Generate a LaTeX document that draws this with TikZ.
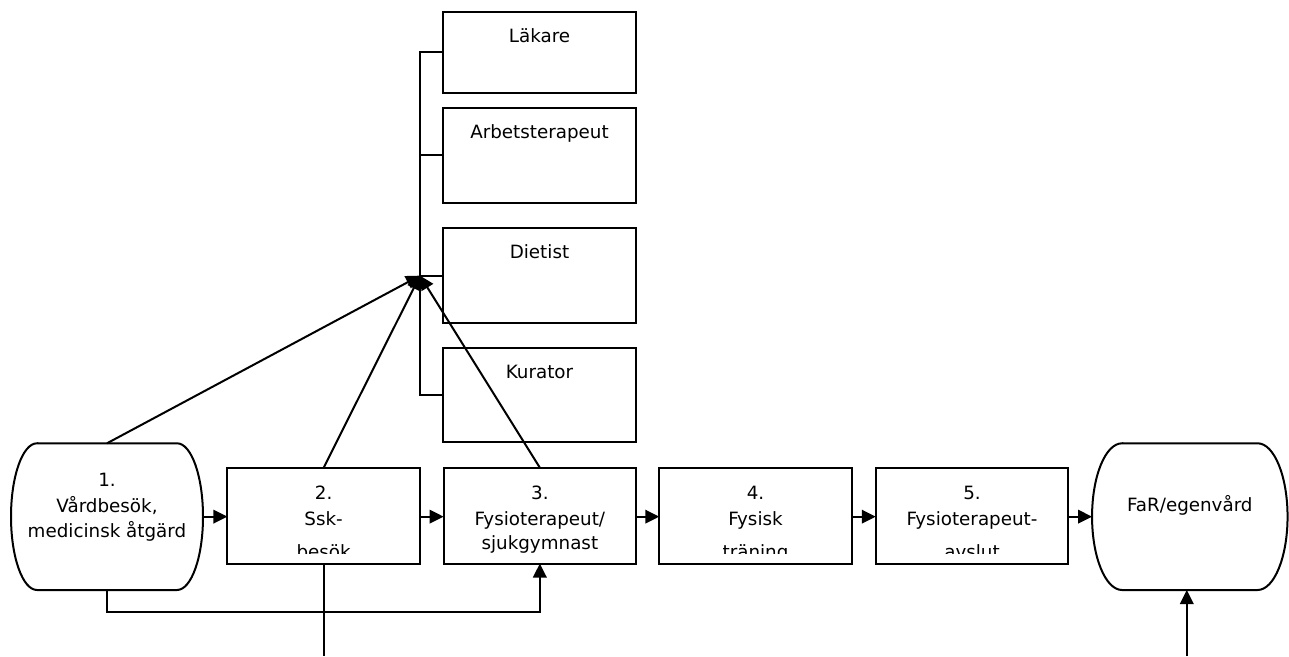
\documentclass[tikz,border=0pt]{standalone}
\usepackage{fontspec}
\setmainfont{DejaVu Sans}
\usetikzlibrary{arrows.meta}
\begin{document}
\begin{tikzpicture}[x=1pt,y=1pt,
  box/.style={draw, line width=2pt, minimum width=192.5pt, inner sep=0pt, outer sep=0pt},
  term/.style={minimum height=146.7pt, inner sep=0pt, outer sep=0pt},
  lbl/.style={anchor=base, inner sep=0pt, font=\fontsize{18.3}{22}\selectfont},
  conn/.style={line width=2pt},
  arr/.style={conn, -{Triangle[length=14pt,width=13.5pt]}},
]
\useasboundingbox (0,0) rectangle (1289,656);
\coordinate (bx) at (420,0);
\coordinate (bot) at (0,0);
\coordinate (low) at (0,44.3);

% --- staff boxes
\node[box, minimum height=81pt]   (lak) at (539.5,603.8) {};
\node[box, minimum height=95pt]   (arb) at (539.5,500.8) {};
\node[box, minimum height=95.3pt] (die) at (539.5,380.35) {};
\node[box, minimum height=94pt]   (kur) at (539.5,261.3) {};
\node[lbl] (laktxt) at ([yshift=-31pt]lak.north) {Läkare};
\node[lbl] (arbtxt) at ([yshift=-31pt]arb.north) {Arbetsterapeut};
\node[lbl] (dietxt) at ([yshift=-31pt]die.north) {Dietist};
\node[lbl] (kurtxt) at ([yshift=-31pt]kur.north) {Kurator};

% bracket
\draw[conn] (lak.west) -- (bx |- lak.west) -- (bx |- kur.west) -- (kur.west);
\draw[conn] (arb.west) -- (bx |- arb.west);
\draw[conn] (die.west) -- (bx |- die.west);
\coordinate (hub) at (bx |- die.west);

% --- bottom row
\node[term, minimum width=192pt] (n1) at (107,139.35) {};
\draw[line width=2pt] ([xshift=26pt]n1.north west) -- ([xshift=-26pt]n1.north east)
  arc[start angle=90, end angle=-90, x radius=26pt, y radius=73.35pt]
  -- ([xshift=26pt]n1.south west)
  arc[start angle=270, end angle=90, x radius=26pt, y radius=73.35pt] -- cycle;
\node[lbl] (n1a) at ([yshift=-43.4pt]n1.north) {1.};
\node[lbl] (n1b) at ([yshift=-69.4pt]n1.north) {Vårdbesök,};
\node[lbl] (n1c) at ([yshift=-94.4pt]n1.north) {medicinsk åtgärd};

\node[box, minimum height=95.8pt] (n2) at (323.65,140.4) {};
\node[box, minimum height=95.8pt] (n3) at (539.85,140.4) {};
\node[box, minimum height=95.8pt] (n4) at (755.5,140.4) {};
\node[box, minimum height=95.8pt] (n5) at (972,140.4) {};

\node[term, minimum width=195.5pt] (far) at (1189.8,139.35) {};
\draw[line width=2pt] ([xshift=30pt]far.north west) -- ([xshift=-30pt]far.north east)
  arc[start angle=90, end angle=-90, x radius=30pt, y radius=73.35pt]
  -- ([xshift=30pt]far.south west)
  arc[start angle=270, end angle=90, x radius=30pt, y radius=73.35pt] -- cycle;
\node[lbl] (fartxt) at ([yshift=-68.4pt]far.north) {FaR/egenvård};

\foreach \n/\a/\b in {n2/2./Ssk-, n3/3./Fysioterapeut\slash, n4/4./Fysisk, n5/5./Fysioterapeut-}{
  \node[lbl] (\n a) at ([yshift=-31.6pt]\n.north) {\a};
  \node[lbl] (\n b) at ([yshift=-57.3pt]\n.north) {\b};
}
\node[lbl] (n3c) at ([yshift=-81.6pt]n3.north) {sjukgymnast};
\begin{scope}
  \clip ([yshift=10pt]n2.south west) rectangle (n5.north east);
  \node[lbl] (n2c) at ([yshift=5pt]n2.south) {besök};
  \node[lbl] (n4c) at ([yshift=5pt]n4.south) {träning};
  \node[lbl] (n5c) at ([yshift=5pt]n5.south) {avslut};
\end{scope}

% --- connectors
\draw[arr] (n1.east) -- (n1.east -| n2.west);
\draw[arr] (n2.east |- n1.east) -- (n3.west |- n1.east);
\draw[arr] (n3.east |- n1.east) -- (n4.west |- n1.east);
\draw[arr] (n4.east |- n1.east) -- (n5.west |- n1.east);
\draw[arr] (n5.east |- n1.east) -- (far.west);

\draw[arr] (n1.south) -- (n1.south |- low) -| (n3.south);
\draw[conn] (n2.south) -- (n2.south |- bot);
\draw[arr] ([xshift=-3pt]far.south |- bot) -- ([xshift=-3pt]far.south);

\draw[arr] (n1.north) -- (hub);
\draw[arr] (n2.north) -- (hub);
\draw[arr] (n3.north) -- (hub);
\end{tikzpicture}
\end{document}
